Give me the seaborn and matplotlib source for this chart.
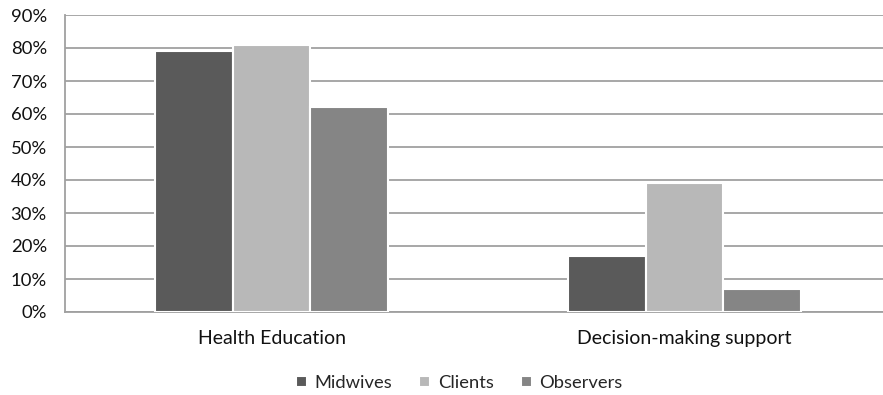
import matplotlib

matplotlib.use("Agg", force=True)
import matplotlib.pyplot as plt
import pandas as pd
import seaborn as sns
from matplotlib.ticker import PercentFormatter

categories = ["Health Education", "Decision-making support"]
series = ["Midwives", "Clients", "Observers"]
midwives = [79, 17]
clients = [81, 39]
observers = [62, 7]
colors = ["#5a5a5a", "#b8b8b8", "#858585"]

rows = []
for name, vals in zip(series, [midwives, clients, observers]):
    for cat, v in zip(categories, vals):
        rows.append({"category": cat, "group": name, "value": v})
df = pd.DataFrame(rows)

sns.set_theme(style="white")
plt.rcParams["font.family"] = ["Lato", "DejaVu Sans"]

fig = plt.figure(figsize=(8.83, 3.95), dpi=100)
ax = fig.add_axes([65 / 883, 1 - 312 / 395, 826 / 883, 297 / 395])

sns.barplot(data=df, x="category", y="value", hue="group", palette=colors,
            width=0.565, edgecolor="white", linewidth=1.5, ax=ax, zorder=3)

ax.set_ylim(0, 90)
ax.set_yticks(range(0, 91, 10))
ax.yaxis.set_major_formatter(PercentFormatter(decimals=0))
ax.set_xlim(-0.5, 1.5)
ax.grid(axis="y", color="#a0a0a0", linewidth=1.3, zorder=0)
ax.set_axisbelow(True)
for side in ["top", "right"]:
    ax.spines[side].set_visible(False)
for side in ["left", "bottom"]:
    ax.spines[side].set_color("#a0a0a0")
    ax.spines[side].set_linewidth(1.3)
ax.set_xlabel("")
ax.set_ylabel("")
ax.tick_params(axis="x", length=0, pad=13, labelsize=14, colors="#111111")
ax.tick_params(axis="y", length=0, pad=13, labelsize=13.3, colors="#111111")

handles, labels = ax.get_legend_handles_labels()
ax.get_legend().remove()
fig.legend(handles, labels, loc="center", bbox_to_anchor=(0.52, 1 - 383 / 395),
           ncol=3, frameon=False, fontsize=13.2, handlelength=0.6, handleheight=0.6,
           handletextpad=0.4, columnspacing=1.5)

fig.savefig("out.png", dpi=100)
